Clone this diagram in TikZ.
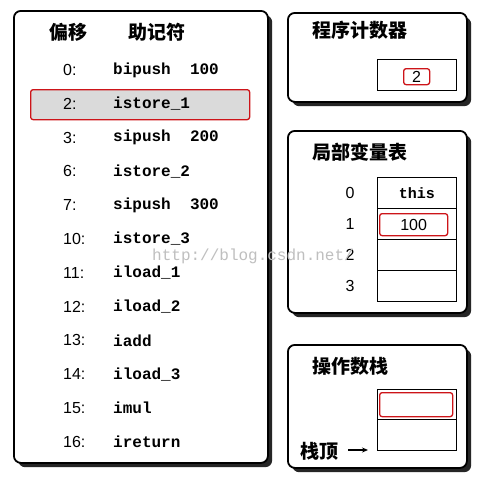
\documentclass[tikz,border=0pt]{standalone}
\usepackage{fontspec}
\usetikzlibrary{arrows.meta}
\setmainfont{Liberation Sans}
\newfontfamily\cjk{Noto Sans CJK SC}
\newfontfamily\code{Liberation Mono}
\definecolor{hlred}{RGB}{205,20,25}
\definecolor{hlgray}{RGB}{218,218,218}
\begin{document}
\begin{tikzpicture}[x=1pt,y=-1pt,
  panel/.style={draw=black,line width=1.8pt,fill=white,rounded corners=7pt,anchor=north west,inner sep=0pt},
  shadowbox/.style={fill=black!85,rounded corners=7pt,anchor=north west,inner sep=0pt},
  cell/.style={draw=black,line width=0.9pt,fill=white,anchor=north west,minimum width=79pt,minimum height=31pt,inner sep=0pt},
  redbox/.style={draw=hlred,line width=1.3pt,rounded corners=2.5pt,anchor=north west,inner sep=0pt},
  title/.style={font=\cjk\bfseries\fontsize{19}{19}\selectfont,anchor=west,inner sep=0pt},
  offs/.style={font=\fontsize{16}{16}\selectfont,anchor=west,inner sep=0pt},
  mnem/.style={font=\code\bfseries\fontsize{16}{16}\selectfont,anchor=west,inner sep=0pt},
  idx/.style={font=\fontsize{16}{16}\selectfont,inner sep=0pt},
  val/.style={font=\fontsize{16}{16}\selectfont,inner sep=0pt}]
\useasboundingbox (0,0) rectangle (496,490);
\fill[white] (0,0) rectangle (496,490);
% ---- left panel
\node[shadowbox,minimum width=254pt,minimum height=452pt] (lsh) at (18,15) {};
\node[panel,minimum width=254pt,minimum height=452pt] (left) at (13,10) {};
\node[title] (h1) at (49,32) {偏移};
\node[title] (h2) at (128,32) {助记符};
% highlight
\node[redbox,fill=hlgray,minimum width=219pt,minimum height=30pt] (hl) at (30,89) {};
\foreach \i/\o/\m [count=\k from 0] in {0/0:/bipush\ \ 100,1/2:/istore\_1,2/3:/sipush\ \ 200,3/6:/istore\_2,4/7:/sipush\ \ 300,5/10:/istore\_3,6/11:/iload\_1,7/12:/iload\_2,8/13:/iadd,9/14:/iload\_3,10/15:/imul,11/16:/ireturn}{
  \node[offs] (o\k) at (63,70+33.8*\i) {\o};
  \node[mnem] (m\k) at (113,70+33.8*\i) {\m};
}
% ---- program counter
\node[shadowbox,minimum width=179pt,minimum height=89pt] (pcsh) at (292,17) {};
\node[panel,minimum width=179pt,minimum height=89pt] (pc) at (287,12) {};
\node[title] (pct) at (312,30) {程序计数器};
\node[cell,minimum height=31pt] (pcv) at (377,59) {};
\node[redbox,minimum width=26pt,minimum height=16pt] (pcr) at (403,68) {};
\node[val] (pcn) at (pcr.center) {2};
% ---- local variables
\node[shadowbox,minimum width=179pt,minimum height=182pt] (lvsh) at (292,135) {};
\node[panel,minimum width=179pt,minimum height=182pt] (lv) at (287,130) {};
\node[title] (lvt) at (312,152) {局部变量表};
\node[cell] (c0) at (377,177) {};
\node[cell] (c1) at (377,208) {};
\node[cell] (c2) at (377,239) {};
\node[cell] (c3) at (377,270) {};
\node[font=\code\bfseries\fontsize{15}{15}\selectfont,inner sep=0pt] (this) at (c0.center) {this};
\node[redbox,minimum width=68pt,minimum height=22pt] (r1) at (379,213) {};
\node[val] (v1) at (r1.center) {100};
\node[idx] (i0) at (350,193) {0};
\node[idx] (i1) at (350,224) {1};
\node[idx] (i2) at (350,255) {2};
\node[idx] (i3) at (350,286) {3};
% ---- operand stack
\node[shadowbox,minimum width=179pt,minimum height=123pt] (ossh) at (292,349) {};
\node[panel,minimum width=179pt,minimum height=123pt] (os) at (287,344) {};
\node[title] (ost) at (312,366) {操作数栈};
\node[cell,minimum height=30pt] (s0) at (377,389) {};
\node[cell,minimum height=31pt] (s1) at (377,419) {};
\node[redbox,minimum width=73pt,minimum height=24pt] (sr) at (379,392) {};
\node[title] (top) at (300,451) {栈顶};
\coordinate (arrs) at (348,450);
\draw[-{Stealth[length=6pt,width=5pt]},line width=1.4pt,shorten >=9pt] (arrs) -- (arrs -| s1.west);
% watermark
\node[font=\code\fontsize{16}{16}\selectfont,text=black!25,anchor=west,inner sep=0pt] (wm) at (152,256) {http://blog.csdn.net/};
\end{tikzpicture}
\end{document}
